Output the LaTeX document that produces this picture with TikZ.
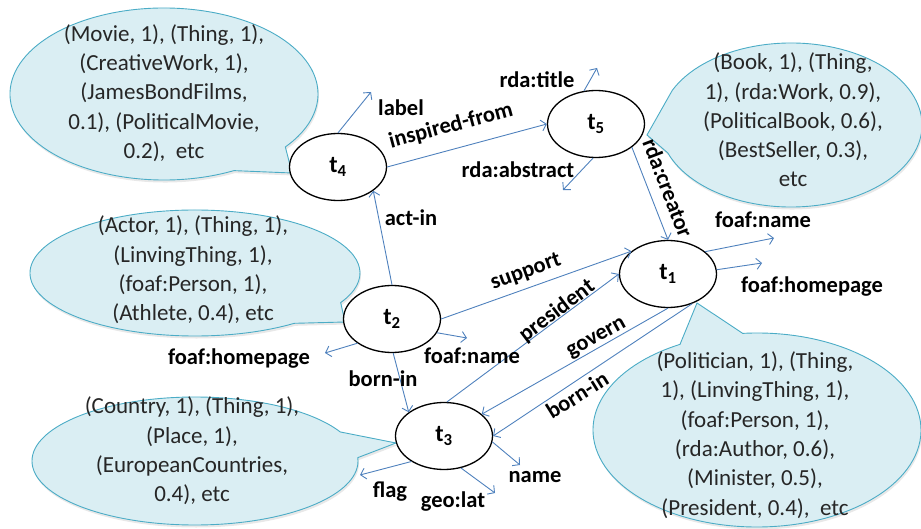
\documentclass[tikz,border=0pt]{standalone}
\usepackage{fontspec}
\setmainfont{Carlito}
\usetikzlibrary{shapes.geometric,arrows.meta,shadows}
\definecolor{edgeblue}{RGB}{79,129,189}
\definecolor{callfill}{RGB}{218,238,243}
\definecolor{callline}{RGB}{75,172,198}
\begin{document}
\begin{tikzpicture}[x=1pt,y=-1pt,
 tnode/.style={ellipse,draw=black,line width=1.3pt,fill=white,minimum width=97pt,minimum height=67pt,inner sep=0pt,font=\bfseries\fontsize{24}{24}\selectfont},
 callout/.style={fill=callfill,draw=callline,line width=0.9pt,drop shadow={opacity=0.18,shadow xshift=1pt,shadow yshift=-2.5pt}},
 calltext/.style={align=center,font=\fontsize{23}{29.3}\selectfont,text=black!85,inner sep=0pt},
 edge/.style={draw=edgeblue,line width=0.9pt,-{Straight Barb[length=5pt,width=11pt]}},
 lbl/.style={font=\bfseries\fontsize{22.5}{22.5}\selectfont,inner sep=0.5pt}]
\useasboundingbox (0,0) rectangle (921,529);

% callouts
\draw[callout] (164,94) ++(63:154 and 86) arc[start angle=63,end angle=398,x radius=154,y radius=86] -- (292,173) -- cycle;
\draw[callout] (791,125) ++(205:131 and 82) arc[start angle=205,end angle=520,x radius=131,y radius=82] -- (647,135) -- cycle;
\draw[callout] (195,273) ++(53:165 and 63) arc[start angle=53,end angle=388,x radius=165,y radius=63] -- (345,322) -- cycle;
\draw[callout] (195,461) ++(-3:163 and 64) arc[start angle=-3,end angle=333,x radius=163,y radius=64] -- (396,443) -- cycle;
\draw[callout] (757,430) ++(265:164 and 97) arc[start angle=265,end angle=602,x radius=164,y radius=97] -- (697,303) -- cycle;

\node[calltext] (c4) at (164,93) {(Movie, 1), (Thing, 1),\\(CreativeWork, 1),\\(JamesBondFilms,\\0.1), (PoliticalMovie,\\0.2),\ \ etc};
\node[calltext] (c5) at (793,120) {(Book, 1), (Thing,\\1), (rda:Work, 0.9),\\(PoliticalBook, 0.6),\\(BestSeller, 0.3),\\etc};
\node[calltext] (c2) at (193,270) {(Actor, 1), (Thing, 1),\\(LinvingThing, 1),\\(foaf:Person, 1),\\(Athlete, 0.4), etc};
\node[calltext] (c3) at (192,451) {(Country, 1), (Thing, 1),\\(Place, 1),\\(EuropeanCountries,\\0.4), etc};
\node[calltext] (c1) at (755,435) {(Politician, 1), (Thing,\\1), (LinvingThing, 1),\\(foaf:Person, 1),\\(rda:Author, 0.6),\\(Minister, 0.5),\\(President, 0.4),\ \ etc};

% main nodes
\node[tnode] (t4) at (338,167) {t\textsubscript{4}};
\node[tnode] (t5) at (596,124) {t\textsubscript{5}};
\node[tnode] (t1) at (668,274) {t\textsubscript{1}};
\node[tnode] (t2) at (392,319) {t\textsubscript{2}};
\node[tnode] (t3) at (444,436) {t\textsubscript{3}};

% free ends
\coordinate (e4a) at (371,92);
\coordinate (e5a) at (597,68);
\coordinate (e5b) at (563,190);
\coordinate (e1a) at (774,238);
\coordinate (e1b) at (762,263);
\coordinate (e2a) at (467,338);
\coordinate (e2b) at (325,353);
\coordinate (e3a) at (360,475);
\coordinate (e3b) at (495,493);
\coordinate (e3c) at (520,465);

% connectors
\draw[edge] (t4.east) -- (t5.west);
\draw[edge] (t5.-33) -- (t1.north);
\draw[edge] (t2.north) -- (t4.-34);
\draw[edge] (t2.east) -- (t1.148);
\draw[edge] (t3.85) -- (t1.west);
\draw[edge] (t1.south) -- (t3.30);
\draw[edge] (t1.-51) -- (t3.east);
\draw[edge] (t2.-88) -- (t3.146);
\draw[edge] (t4.north) -- (e4a);
\draw[edge] (t5.110) -- (e5a);
\draw[edge] (t5.-95) -- (e5b);
\draw[edge] (t1.31) -- (e1a);
\draw[edge] (t1.5) -- (e1b);
\draw[edge] (t2.-17) -- (e2a);
\draw[edge] (t2.215) -- (e2b);
\draw[edge] (t3.218) -- (e3a);
\draw[edge] (t3.-62) -- (e3b);
\draw[edge] (t3.-7) -- (e3c);

% labels
\node[lbl] (l1) at (401,108) {label};
\node[lbl,rotate=15] (l2) at (451,126) {inspired-from};
\node[lbl] (l3) at (537,80) {rda:title};
\node[lbl] (l4) at (518,170) {rda:abstract};
\node[lbl,rotate=-69] (l5) at (668,188) {rda:creator};
\node[lbl] (l6) at (411,218) {act-in};
\node[lbl,rotate=20] (l7) at (526,272) {support};
\node[lbl,rotate=37] (l8) at (557,311) {president};
\node[lbl,rotate=29] (l9) at (597,339) {govern};
\node[lbl,rotate=32] (l10) at (577,395) {born-in};
\node[lbl] (l11) at (383,379) {born-in};
\node[lbl] (l12) at (472,356) {foaf:name};
\node[lbl] (l13) at (239,359) {foaf:homepage};
\node[lbl] (l14) at (763,220) {foaf:name};
\node[lbl] (l15) at (812,287) {foaf:homepage};
\node[lbl] (l16) at (390,492) {flag};
\node[lbl] (l17) at (453,502) {geo:lat};
\node[lbl] (l18) at (535,477) {name};
\end{tikzpicture}
\end{document}
